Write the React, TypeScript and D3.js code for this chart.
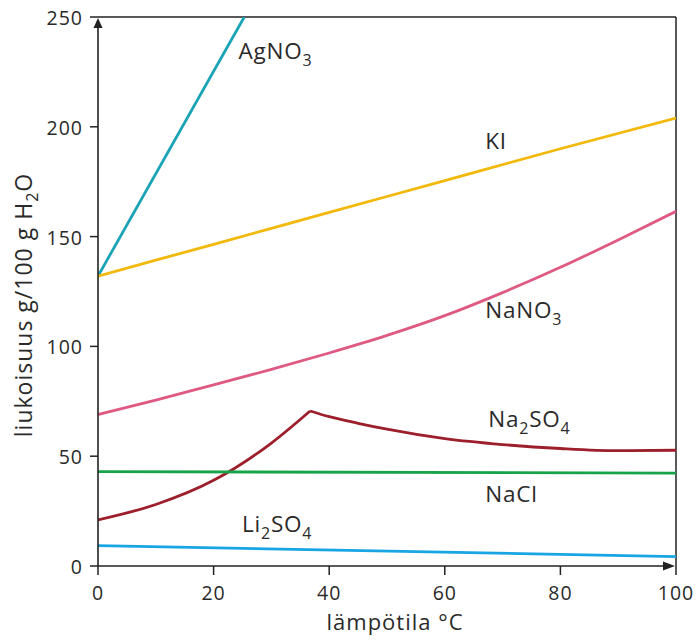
import React from 'react';
import * as d3 from 'd3';

const W = 700;
const H = 642;

const xTicks = [0, 20, 40, 60, 80, 100];
const yTicks = [0, 50, 100, 150, 200, 250];

// Solubility data (g / 100 g H2O)
const agno3T = [0, 25.3];
const agno3V = [132, 250];

const kiT = [0, 20, 40, 60, 80, 100];
const kiV = [132, 146.5, 161, 175.5, 190, 204];

const nano3T = [0, 10, 20, 30, 40, 50, 60, 70, 80, 90, 100];
const nano3V = [69, 75.5, 82.5, 89.5, 97, 105, 114, 124.5, 136, 148.5, 161.5];

const na2so4RiseT = [0, 10, 20, 30, 36.7];
const na2so4RiseV = [21, 28, 39, 56, 70.6];
const na2so4FallT = [36.7, 40, 45, 50, 60, 70, 80, 90, 100];
const na2so4FallV = [70.6, 68, 65, 62.3, 58, 55.3, 53.5, 52.5, 52.7];

const naclT = [0, 100];
const naclV = [43, 42.3];

const li2so4T = [0, 100];
const li2so4V = [9.3, 4.3];

type Pt = [number, number];
const zip = (t: number[], v: number[]): Pt[] => t.map((d, i) => [d, v[i]]);

const series = [
  { name: 'AgNO3', color: '#1ba3b6', parts: [zip(agno3T, agno3V)] },
  { name: 'KI', color: '#f2b90c', parts: [zip(kiT, kiV)] },
  { name: 'NaNO3', color: '#df5a82', parts: [zip(nano3T, nano3V)] },
  { name: 'Na2SO4', color: '#9c1f2b', parts: [zip(na2so4RiseT, na2so4RiseV), zip(na2so4FallT, na2so4FallV)] },
  { name: 'NaCl', color: '#17a34a', parts: [zip(naclT, naclV)] },
  { name: 'Li2SO4', color: '#17a6e3', parts: [zip(li2so4T, li2so4V)] },
];

const labels = [
  { parts: ['AgNO', '3'], t: 24.3, v: 230.7 },
  { parts: ['KI'], t: 67.0, v: 189.7 },
  { parts: ['NaNO', '3'], t: 67.0, v: 112.8 },
  { parts: ['Na', '2', 'SO', '4'], t: 67.5, v: 63.4 },
  { parts: ['NaCl'], t: 67.0, v: 29.3 },
  { parts: ['Li', '2', 'SO', '4'], t: 24.9, v: 15.3 },
];

const FONT = '"Open Sans", "DejaVu Sans", sans-serif';
const TXT = '#2a2a2a';
const AX = '#222';

export default function App() {
  const x = d3.scaleLinear().domain([0, 100]).range([98, 676]);
  const y = d3.scaleLinear().domain([0, 250]).range([566, 17]);
  const line = d3
    .line<Pt>()
    .x((d) => x(d[0]))
    .y((d) => y(d[1]))
    .curve(d3.curveMonotoneX);

  const x0 = x(0), x1 = x(100), y0 = y(0), y1 = y(250);

  const renderLabel = (parts: string[], key: number, tx: number, ty: number) => (
    <text key={key} x={tx} y={ty} fontFamily={FONT} fontSize={22.5} fill={TXT} letterSpacing={0.8}>
      {parts.map((p, i) =>
        i % 2 === 1 ? (
          <tspan key={i} fontSize={16} dy={7}>{p}</tspan>
        ) : (
          <tspan key={i} dy={i === 0 ? 0 : -7}>{p}</tspan>
        )
      )}
    </text>
  );

  return (
    <svg width={W} height={H} style={{ position: 'absolute', left: 0, top: 0, background: '#fff' }}>
      <defs>
        <clipPath id="plot">
          <rect x={x0} y={y1} width={x1 - x0} height={y0 - y1} />
        </clipPath>
      </defs>

      <line x1={x0} x2={x1} y1={y1} y2={y1} stroke={AX} strokeWidth={1.5} />
      <line x1={x1} x2={x1} y1={y1} y2={y0} stroke={AX} strokeWidth={1.5} />

      <g clipPath="url(#plot)">
        {series.map((s) =>
          s.parts.map((p, i) => (
            <path key={s.name + i} d={line(p) || ''} fill="none" stroke={s.color} strokeWidth={2.8} />
          ))
        )}
      </g>

      <line x1={x0} x2={x0} y1={y0} y2={y1 + 4} stroke={AX} strokeWidth={1.6} />
      <path d={`M${x0},${y1 + 1} L${x0 - 4.5},${y1 + 11} L${x0 + 4.5},${y1 + 11} Z`} fill={AX} />
      <line x1={x0} x2={x1 - 4} y1={y0} y2={y0} stroke={AX} strokeWidth={1.6} />
      <path d={`M${x1 - 1},${y0} L${x1 - 13},${y0 - 4.5} L${x1 - 13},${y0 + 4.5} Z`} fill={AX} />

      {yTicks.map((t) => (
        <g key={'y' + t}>
          <line x1={x0 - 8} x2={x0} y1={y(t)} y2={y(t)} stroke={AX} strokeWidth={1.5} />
          <text x={x0 - 15} y={y(t) + 8} textAnchor="end" fontFamily={FONT} fontSize={19.5} fill={TXT} letterSpacing={1}>
            {t}
          </text>
        </g>
      ))}

      {xTicks.map((t) => (
        <g key={'x' + t}>
          <line x1={x(t)} x2={x(t)} y1={y0} y2={y0 + 9} stroke={AX} strokeWidth={1.5} />
          <text x={x(t)} y={y0 + 34} textAnchor="middle" fontFamily={FONT} fontSize={19.5} fill={TXT} letterSpacing={1}>
            {t}
          </text>
        </g>
      ))}

      <text x={(x0 + x1) / 2 + 8} y={630} textAnchor="middle" fontFamily={FONT} fontSize={22} fill={TXT} letterSpacing={1}>
        lämpötila °C
      </text>
      <text
        transform={`translate(32,305) rotate(-90)`}
        textAnchor="middle"
        fontFamily={FONT}
        fontSize={23}
        fill={TXT}
        letterSpacing={1}
      >
        liukoisuus g/100 g H<tspan fontSize={16} dy={6}>2</tspan>
        <tspan dy={-6}>O</tspan>
      </text>

      {labels.map((l, i) => renderLabel(l.parts, i, x(l.t), y(l.v)))}
    </svg>
  );
}
